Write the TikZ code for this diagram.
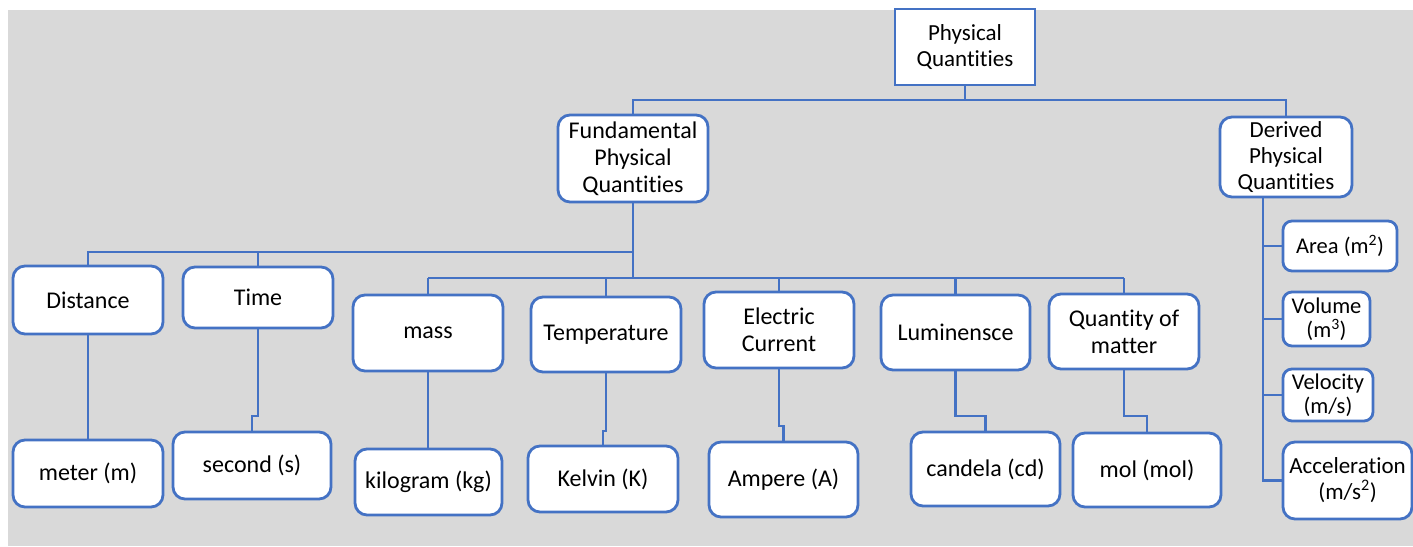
\documentclass[tikz,border=0pt]{standalone}
\usepackage{fontspec}
\setmainfont[RawFeature={-liga}]{Carlito}
\definecolor{qblue}{RGB}{68,114,196}
\definecolor{bggray}{RGB}{217,217,217}
\begin{document}
\begin{tikzpicture}[x=1pt,y=-1pt,
  box/.style={draw=qblue, line width=2.8pt, fill=white, rounded corners=12pt,
    align=center, inner sep=0pt, font=\fontsize{24}{27}\selectfont},
  sbox/.style={box, rounded corners=9pt, font=\fontsize{22.5}{24}\selectfont},
  conn/.style={draw=qblue, line width=2.8pt}]
\useasboundingbox (0,0) rectangle (1413,546);
\fill[bggray] (8,10) rectangle (1413,546);
% coordinates for buses and jogs
\coordinate (b1) at (0,100);
\coordinate (b2) at (0,252);
\coordinate (b3) at (0,278);
\coordinate (jt) at (0,416);
\coordinate (jk) at (0,431);
\coordinate (ja) at (0,426);
\coordinate (jl) at (0,416);
\coordinate (jq) at (0,416);
\coordinate (sp) at (1263,0);
% nodes
\node[box, rounded corners=0pt, minimum width=140pt, minimum height=76pt, font=\fontsize{23}{26}\selectfont] (pq) at (965,47) {Physical\\Quantities};
\node[box, minimum width=132pt, minimum height=80pt, font=\fontsize{23}{26}\selectfont] (der) at (1286,157) {Derived\\Physical\\Quantities};
\node[box, minimum width=150pt, minimum height=87pt] (fund) at (633,158.5) {Fundamental\\Physical\\Quantities};
\node[box, minimum width=150pt, minimum height=68pt] (dist) at (88,300) {Distance};
\node[box, minimum width=150pt, minimum height=61pt] (time) at (258,297.5) {Time};
\node[box, minimum width=150pt, minimum height=76pt] (mass) at (428,333) {mass};
\node[box, minimum width=150pt, minimum height=75pt] (temp) at (606,334.5) {Temperature};
\node[box, minimum width=150pt, minimum height=76pt] (ec) at (779,330) {Electric\\Current};
\node[box, minimum width=149pt, minimum height=75pt] (lum) at (955.5,332.5) {Luminensce};
\node[box, minimum width=150pt, minimum height=75pt] (qom) at (1124,331.5) {Quantity of\\matter};
\node[box, minimum width=150pt, minimum height=67pt] (meter) at (88,473.5) {meter (m)};
\node[box, minimum width=158pt, minimum height=67pt] (second) at (252,465.5) {second (s)};
\node[box, minimum width=147pt, minimum height=66pt] (kg) at (428.5,482) {kilogram (kg)};
\node[box, minimum width=150pt, minimum height=66pt] (kelvin) at (603,479) {Kelvin (K)};
\node[box, minimum width=149pt, minimum height=75pt] (amp) at (783.5,479.5) {Ampere (A)};
\node[box, minimum width=149pt, minimum height=74pt] (cand) at (985.5,469) {candela (cd)};
\node[box, minimum width=148pt, minimum height=74pt] (mol) at (1147,470) {mol (mol)};
\node[sbox, minimum width=114pt, minimum height=50pt] (area) at (1340,246) {Area (m\textsuperscript{2})};
\node[sbox, minimum width=87pt, minimum height=54pt] (vol) at (1326.5,319) {Volume\\(m\textsuperscript{3})};
\node[sbox, minimum width=90pt, minimum height=52pt] (vel) at (1328,395) {Velocity\\(m/s)};
\node[box, minimum width=129pt, minimum height=77pt, font=\fontsize{23}{26}\selectfont] (acc) at (1347.5,480.5) {Acceleration\\(m/s\textsuperscript{2})};
% connectors
\draw[conn] (pq.south) -- (pq.south |- b1) -| (der.north);
\draw[conn] (pq.south |- b1) -| (fund.north);
\draw[conn] (fund.south) -- (fund.south |- b3);
\draw[conn] (fund.south |- b2) -| (dist.north);
\draw[conn] (fund.south |- b2) -| (time.north);
\draw[conn] (mass.north |- b3) -- (qom.north |- b3);
\draw[conn] (mass.north |- b3) -- (mass.north);
\draw[conn] (temp.north |- b3) -- (temp.north);
\draw[conn] (ec.north |- b3) -- (ec.north);
\draw[conn] (lum.north |- b3) -- (lum.north);
\draw[conn] (qom.north |- b3) -- (qom.north);
\draw[conn] (dist.south) -- (meter.north);
\draw[conn] (time.south) -- (time.south |- jt) -| (second.north);
\draw[conn] (mass.south) -- (mass.south |- kg.north);
\draw[conn] (temp.south) -- (temp.south |- jk) -| (kelvin.north);
\draw[conn] (ec.south) -- (ec.south |- ja) -| (amp.north);
\draw[conn] (lum.south) -- (lum.south |- jl) -| (cand.north);
\draw[conn] (qom.south) -- (qom.south |- jq) -| (mol.north);
\draw[conn] (sp |- der.south) -- (sp |- acc.west) -- (acc.west);
\draw[conn] (sp |- area.west) -- (area.west);
\draw[conn] (sp |- vol.west) -- (vol.west);
\draw[conn] (sp |- vel.west) -- (vel.west);
\end{tikzpicture}
\end{document}
